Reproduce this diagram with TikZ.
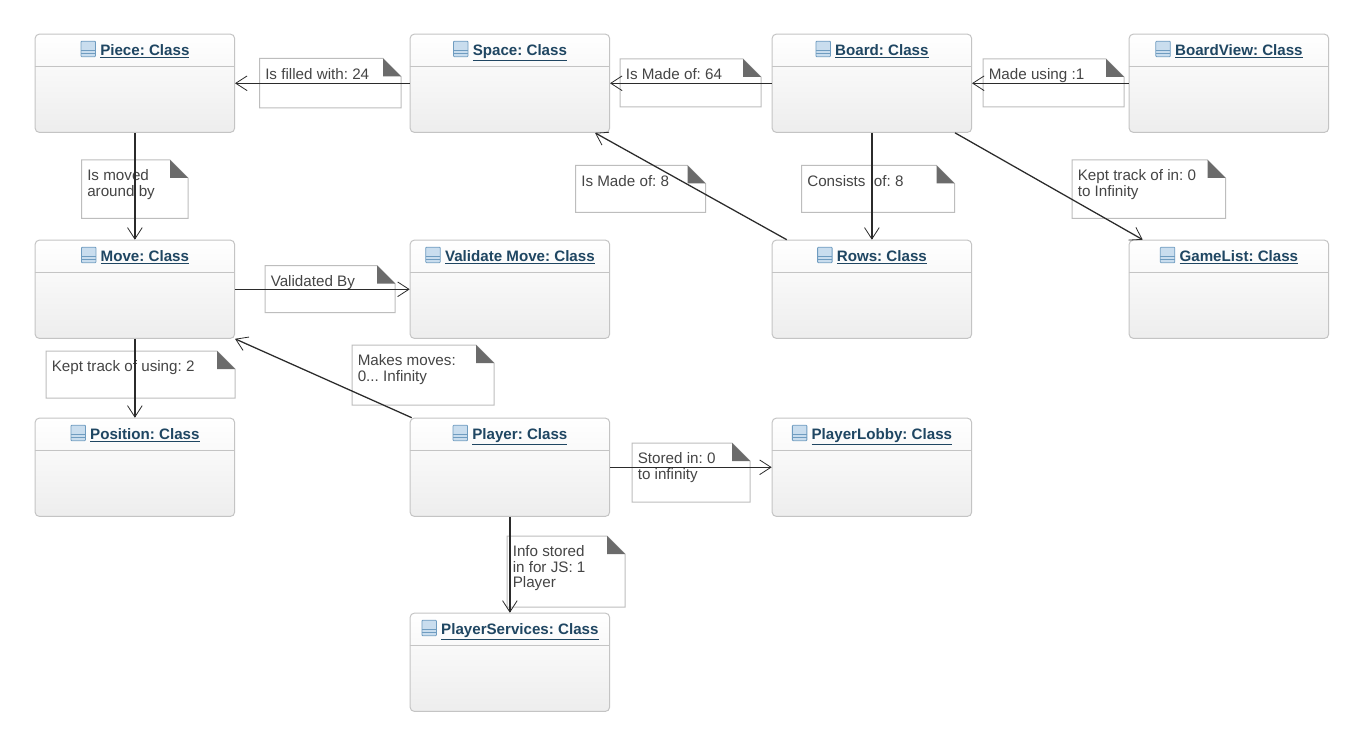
\documentclass[tikz,border=0pt]{standalone}
\usepackage{fontspec}
\setmainfont{Liberation Sans}
\usetikzlibrary{arrows.meta,calc}
\frenchspacing
\definecolor{titleblue}{HTML}{1F4662}
\definecolor{boxedge}{HTML}{C4C4C4}
\definecolor{noteedge}{HTML}{BDBDBD}
\definecolor{foldgray}{HTML}{6B6B6B}
\definecolor{notetext}{HTML}{454545}
\definecolor{iconfill}{HTML}{C9DDEE}
\definecolor{iconedge}{HTML}{6F9CC0}
\definecolor{wire}{HTML}{2B2B2B}
\tikzset{
  classbox/.style={draw=boxedge,line width=0.75pt,rounded corners=3pt,top color=white,bottom color=black!7,
    minimum width=149.5pt,minimum height=73.6pt,inner sep=0pt,anchor=north west},
  classtitle/.style={font=\bfseries\fontsize{11.35}{12}\selectfont,text=titleblue,inner sep=0pt,anchor=base},
  headline/.style={draw=boxedge,line width=0.6pt},
  iconbox/.style={draw=iconedge,fill=iconfill,line width=0.6pt,rounded corners=0.6pt},
  notebox/.style={font=\fontsize{11.4}{11.7}\selectfont,text=notetext,inner sep=0pt,anchor=north west},
  noteline/.style={draw=noteedge,fill=white,line width=0.75pt},
  wireline/.style={draw=wire,line width=0.95pt,-{Straight Barb[length=8.5pt,width=11pt,line width=0.6pt]}},
}
% name, x, y, icon offset from the centre, title
\newcommand{\classnode}[5]{
  \node[classbox] (#1) at (#2-0.3,#3-0.3) {};
  \draw[headline] ($(#1.north west)+(0,32.5)$) -- ($(#1.north east)+(0,32.5)$);
  \node[classtitle] (#1t) at ($(#1.north)+(#4,21.5)$) {\underline{#5}};
  \draw[iconbox] ($(#1t.base west)+(-19,1.5)$) rectangle ($(#1t.base west)+(-4.5,-14)$);
  \draw[iconedge,line width=0.5pt] ($(#1t.base west)+(-19,-5)$) -- ($(#1t.base west)+(-4.5,-5)$);
  \draw[iconedge,line width=0.5pt] ($(#1t.base west)+(-19,-2)$) -- ($(#1t.base west)+(-4.5,-2)$);
}
% name, x, y, w, h (px), text
\newcommand{\notenode}[6]{
  \pgfmathsetlengthmacro{\nw}{(#4-6)*0.75pt}
  \pgfmathsetlengthmacro{\nh}{(#5-6)*0.75pt}
  \path[noteline] (#2,#3) -- ++(#4-18,0) -- ++(18,18) -- ++(0,#5-18) -- ++(-#4,0) -- cycle;
  \fill[foldgray] (#2+#4-18,#3) -- (#2+#4,#3+18) -- (#2+#4-18,#3+18) -- cycle;
  \node[notebox] (#1) at (#2+5.5,#3+9.5) {\parbox[t][\nh][t]{\nw}{\raggedright #6}};
}
\begin{document}
\begin{tikzpicture}[x=0.75pt,y=-0.75pt]
\useasboundingbox[fill=white] (0,0) rectangle (1362,745);
% class boxes
\classnode{piece}{35}{34}{10}{Piece: Class}
\classnode{space}{410}{34}{10}{Space: Class}
\classnode{board}{772}{34}{10}{Board: Class}
\classnode{view}{1129}{34}{10}{BoardView: Class}
\classnode{move}{35}{240}{10}{Move: Class}
\classnode{validate}{410}{240}{10}{Validate Move: Class}
\classnode{rows}{772}{240}{10}{Rows: Class}
\classnode{glist}{1129}{240}{10}{GameList: Class}
\classnode{position}{35}{418}{10}{Position: Class}
\classnode{player}{410}{418}{10}{Player: Class}
\classnode{lobby}{772}{418}{10}{PlayerLobby: Class}
\classnode{services}{410}{613}{10}{PlayerServices: Class}
% notes
\notenode{n1}{259.5}{58.5}{141.5}{49.5}{Is filled with: 24}
\notenode{n2}{620}{59}{141}{48}{Is Made of: 64}
\notenode{n3}{983}{59}{141}{48}{Made using :1}
\notenode{n4}{81.5}{160}{106.5}{58.5}{Is moved\\around by}
\notenode{n5}{575.5}{165.5}{130}{47}{Is Made of: 8}
\notenode{n6}{801.5}{165.5}{153}{47}{Consists\ \ of: 8}
\notenode{n7}{1072}{160}{153.5}{58.5}{Kept track of in: 0\\to Infinity}
\notenode{n8}{265}{265.5}{130}{47}{Validated By}
\notenode{n9}{46}{351}{189}{47}{Kept track of using: 2}
\notenode{n10}{352}{345}{142}{60}{Makes moves:\\0... Infinity}
\notenode{n11}{632}{443}{118}{59}{Stored in: 0\\to infinity}
\notenode{n12}{507}{536}{118}{71}{Info stored\\in for JS: 1\\Player}
% connectors
\draw[wireline] (space.west) -- (piece.east);
\draw[wireline] (board.west) -- (space.east);
\draw[wireline] (view.west) -- (board.east);
\draw[wireline] (piece.south) -- (move.north);
\draw[wireline] (move.south) -- (position.north);
\draw[wireline] (move.east) -- (validate.west);
\draw[wireline] (board.south) -- (rows.north);
\draw[wireline] ($(board.south west)!0.915!(board.south east)$) -- ($(glist.north west)!0.07!(glist.north east)$);
\draw[wireline] ($(rows.north west)!0.075!(rows.north east)$) -- ($(space.south west)!0.925!(space.south east)$);
\draw[wireline] ($(player.north west)!0.01!(player.north east)$) -- (move.south east);
\draw[wireline] (player.east) -- (lobby.west);
\draw[wireline] (player.south) -- (services.north);
\end{tikzpicture}
\end{document}
